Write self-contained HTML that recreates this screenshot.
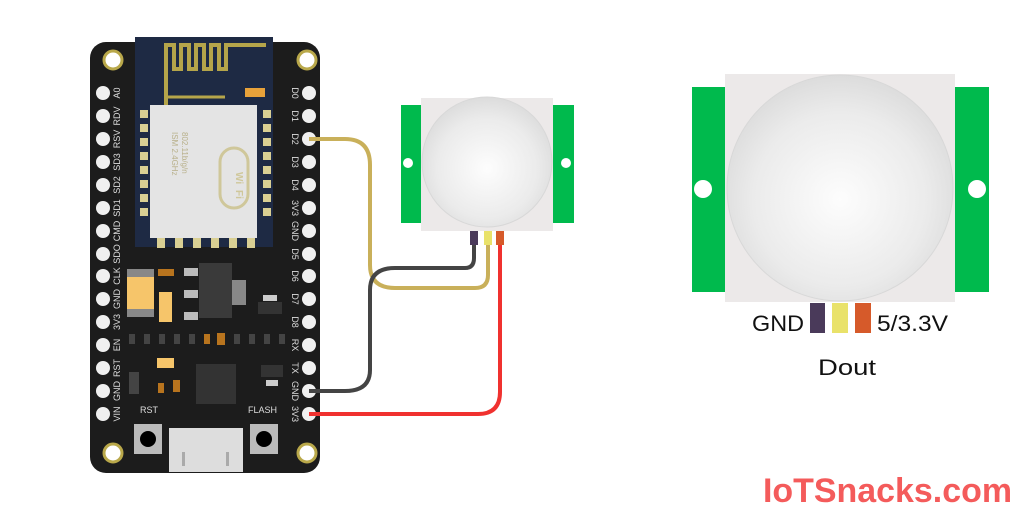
<!DOCTYPE html>
<html><head><style>
body{margin:0;background:#fff;width:1024px;height:512px;overflow:hidden}
svg{display:block}
text{font-family:"Liberation Sans",sans-serif}
</style></head><body>
<svg width="1024" height="512" viewBox="0 0 1024 512">
<defs>
<radialGradient id="dome" cx="0.5" cy="0.55" r="0.55">
<stop offset="0" stop-color="#fdfdfd"/><stop offset="0.7" stop-color="#ebebeb"/><stop offset="1" stop-color="#dcdcdc"/>
</radialGradient>
</defs>
<!-- board -->
<rect x="90" y="42" width="230" height="431" rx="16" fill="#1c1c1c"/>
<g fill="#fff" stroke="#b9a84a" stroke-width="3">
<circle cx="113" cy="60" r="9"/><circle cx="307" cy="60" r="9"/>
<circle cx="113" cy="453" r="9"/><circle cx="307" cy="453" r="9"/>
</g>
<!-- esp module -->
<rect x="135" y="37" width="138" height="210" fill="#1e2a44"/>
<path d="M166 108 V45 h8 v24 h7 v-24 h8 v24 h7 v-24 h8 v24 h7 v-24 h8 v24 h7 v-24 h40" fill="none" stroke="#b5a54a" stroke-width="4"/>
<path d="M166 97 H225" stroke="#b5a54a" stroke-width="3"/>
<rect x="245" y="88" width="20" height="9" fill="#e8a23a"/>
<rect x="150" y="105" width="107" height="133" fill="#e4e4e4"/>
<g fill="#d9cf93">
<rect x="140" y="110" width="8" height="8"/><rect x="140" y="124" width="8" height="8"/><rect x="140" y="138" width="8" height="8"/><rect x="140" y="152" width="8" height="8"/><rect x="140" y="166" width="8" height="8"/><rect x="140" y="180" width="8" height="8"/><rect x="140" y="194" width="8" height="8"/><rect x="140" y="208" width="8" height="8"/>
<rect x="263" y="110" width="8" height="8"/><rect x="263" y="124" width="8" height="8"/><rect x="263" y="138" width="8" height="8"/><rect x="263" y="152" width="8" height="8"/><rect x="263" y="166" width="8" height="8"/><rect x="263" y="180" width="8" height="8"/><rect x="263" y="194" width="8" height="8"/><rect x="263" y="208" width="8" height="8"/>
<rect x="157" y="238" width="8" height="10"/><rect x="175" y="238" width="8" height="10"/><rect x="193" y="238" width="8" height="10"/><rect x="211" y="238" width="8" height="10"/><rect x="229" y="238" width="8" height="10"/><rect x="247" y="238" width="8" height="10"/>
</g>
<rect x="220" y="148" width="28" height="60" rx="14" fill="none" stroke="#cfc79a" stroke-width="3"/>
<text x="0" y="0" transform="translate(236,172) rotate(90)" font-size="10" font-weight="bold" fill="#cfc79a">Wi</text>
<text x="0" y="0" transform="translate(236,190) rotate(90)" font-size="10" font-weight="bold" fill="#cfc79a">Fi</text>
<text transform="translate(172,132) rotate(90)" font-size="8" fill="#b8b08a">ISM 2.4GHz</text>
<text transform="translate(182,132) rotate(90)" font-size="8" fill="#b8b08a">802.11b/g/n</text>
<!-- components -->
<rect x="127" y="269" width="27" height="48" fill="#f6c56a"/><rect x="127" y="269" width="27" height="8" fill="#888"/><rect x="127" y="309" width="27" height="8" fill="#888"/>
<rect x="158" y="269" width="16" height="7" fill="#b8741e"/>
<rect x="159" y="292" width="13" height="30" fill="#f6c56a"/>
<rect x="199" y="263" width="33" height="55" fill="#3a3a3a"/>
<rect x="232" y="280" width="14" height="25" fill="#888"/>
<rect x="184" y="268" width="14" height="8" fill="#bbb"/><rect x="184" y="290" width="14" height="8" fill="#bbb"/><rect x="184" y="312" width="14" height="8" fill="#bbb"/>
<rect x="263" y="295" width="14" height="6" fill="#ccc"/><rect x="258" y="302" width="24" height="12" fill="#333"/>
<g fill="#444"><rect x="129" y="334" width="6" height="10"/><rect x="144" y="334" width="6" height="10"/><rect x="159" y="334" width="6" height="10"/><rect x="174" y="334" width="6" height="10"/><rect x="189" y="334" width="6" height="10"/><rect x="234" y="334" width="6" height="10"/><rect x="249" y="334" width="6" height="10"/><rect x="264" y="334" width="6" height="10"/><rect x="279" y="334" width="6" height="10"/></g>
<rect x="204" y="334" width="6" height="10" fill="#b8741e"/><rect x="217" y="333" width="8" height="12" fill="#b8741e"/>
<rect x="157" y="358" width="17" height="10" fill="#f6c56a"/>
<rect x="129" y="372" width="10" height="22" fill="#444"/>
<rect x="158" y="383" width="6" height="10" fill="#b8741e"/><rect x="173" y="380" width="7" height="12" fill="#b8741e"/>
<rect x="196" y="364" width="40" height="40" fill="#333"/>
<rect x="261" y="365" width="22" height="12" fill="#333"/><rect x="266" y="380" width="12" height="6" fill="#ccc"/>
<text x="140" y="413" font-size="9" fill="#ddd">RST</text>
<text x="248" y="413" font-size="9" fill="#ddd">FLASH</text>
<rect x="134" y="424" width="28" height="30" fill="#bbb"/><circle cx="148" cy="439" r="8" fill="#000"/>
<rect x="250" y="424" width="28" height="30" fill="#bbb"/><circle cx="264" cy="439" r="8" fill="#000"/>
<rect x="169" y="428" width="74" height="44" fill="#ddd"/>
<rect x="182" y="452" width="3" height="14" fill="#aaa"/><rect x="226" y="452" width="3" height="14" fill="#aaa"/>
<!-- pins -->
<g fill="#f0f0f0">
<circle cx="103" cy="93" r="7"/><circle cx="103" cy="116" r="7"/><circle cx="103" cy="139" r="7"/><circle cx="103" cy="162" r="7"/><circle cx="103" cy="185" r="7"/><circle cx="103" cy="208" r="7"/><circle cx="103" cy="231" r="7"/><circle cx="103" cy="254" r="7"/><circle cx="103" cy="276" r="7"/><circle cx="103" cy="299" r="7"/><circle cx="103" cy="322" r="7"/><circle cx="103" cy="345" r="7"/><circle cx="103" cy="368" r="7"/><circle cx="103" cy="391" r="7"/><circle cx="103" cy="414" r="7"/>
<circle cx="309" cy="93" r="7"/><circle cx="309" cy="116" r="7"/><circle cx="309" cy="139" r="7"/><circle cx="309" cy="162" r="7"/><circle cx="309" cy="185" r="7"/><circle cx="309" cy="208" r="7"/><circle cx="309" cy="231" r="7"/><circle cx="309" cy="254" r="7"/><circle cx="309" cy="276" r="7"/><circle cx="309" cy="299" r="7"/><circle cx="309" cy="322" r="7"/><circle cx="309" cy="345" r="7"/><circle cx="309" cy="368" r="7"/><circle cx="309" cy="391" r="7"/><circle cx="309" cy="414" r="7"/>
</g>
<g font-size="9" fill="#ddd" font-family="Liberation Mono" text-anchor="middle">
<text transform="translate(120,93) rotate(-90)">A0</text><text transform="translate(120,116) rotate(-90)">RDV</text><text transform="translate(120,139) rotate(-90)">RSV</text><text transform="translate(120,162) rotate(-90)">SD3</text><text transform="translate(120,185) rotate(-90)">SD2</text><text transform="translate(120,208) rotate(-90)">SD1</text><text transform="translate(120,231) rotate(-90)">CMD</text><text transform="translate(120,254) rotate(-90)">SDO</text><text transform="translate(120,276) rotate(-90)">CLK</text><text transform="translate(120,299) rotate(-90)">GND</text><text transform="translate(120,322) rotate(-90)">3V3</text><text transform="translate(120,345) rotate(-90)">EN</text><text transform="translate(120,368) rotate(-90)">RST</text><text transform="translate(120,391) rotate(-90)">GND</text><text transform="translate(120,414) rotate(-90)">VIN</text>
<text transform="translate(292,93) rotate(90)">D0</text><text transform="translate(292,116) rotate(90)">D1</text><text transform="translate(292,139) rotate(90)">D2</text><text transform="translate(292,162) rotate(90)">D3</text><text transform="translate(292,185) rotate(90)">D4</text><text transform="translate(292,208) rotate(90)">3V3</text><text transform="translate(292,231) rotate(90)">GND</text><text transform="translate(292,254) rotate(90)">D5</text><text transform="translate(292,276) rotate(90)">D6</text><text transform="translate(292,299) rotate(90)">D7</text><text transform="translate(292,322) rotate(90)">D8</text><text transform="translate(292,345) rotate(90)">RX</text><text transform="translate(292,368) rotate(90)">TX</text><text transform="translate(292,391) rotate(90)">GND</text><text transform="translate(292,414) rotate(90)">3V3</text>
</g>
<!-- wires -->
<path d="M309 139 H345 Q370 139 370 165 V265 Q370 288 395 288 H475 Q488 288 488 275 V245" fill="none" stroke="#c9b05a" stroke-width="4"/>
<path d="M309 391 H345 Q370 391 370 370 V290 Q370 268 395 268 H465 Q474 268 474 258 V245" fill="none" stroke="#444" stroke-width="4"/>
<path d="M309 414 H478 Q500 414 500 392 V245" fill="none" stroke="#f0312f" stroke-width="4"/>
<!-- small sensor -->
<rect x="401" y="105" width="21" height="118" fill="#00ba4d"/><circle cx="408" cy="163" r="5" fill="#fff"/>
<rect x="553" y="105" width="21" height="118" fill="#00ba4d"/><circle cx="566" cy="163" r="5" fill="#fff"/>
<rect x="421" y="98" width="132" height="133" fill="#ece9e9"/>
<circle cx="487" cy="162" r="65" fill="url(#dome)" stroke="#d8d8d8"/>
<rect x="470" y="231" width="8" height="14" fill="#4a3a5a"/><rect x="484" y="231" width="8" height="14" fill="#e9e26a"/><rect x="496" y="231" width="8" height="14" fill="#d65a2a"/>
<!-- large sensor -->
<rect x="692" y="87" width="34" height="205" fill="#00ba4d"/><circle cx="703" cy="189" r="9" fill="#fff"/>
<rect x="955" y="87" width="34" height="205" fill="#00ba4d"/><circle cx="977" cy="189" r="9" fill="#fff"/>
<rect x="725" y="74" width="230" height="228" fill="#ece9e9"/>
<circle cx="840" cy="188" r="113" fill="url(#dome)" stroke="#d8d8d8"/>
<rect x="810" y="303" width="15" height="30" fill="#4a3a5a"/><rect x="832" y="303" width="16" height="30" fill="#e9e26a"/><rect x="855" y="303" width="16" height="30" fill="#d65a2a"/>
<text x="752" y="331" font-size="22" fill="#111" textLength="52" lengthAdjust="spacingAndGlyphs">GND</text>
<text x="877" y="331" font-size="22" fill="#111" textLength="71" lengthAdjust="spacingAndGlyphs">5/3.3V</text>
<text x="818" y="375" font-size="22" fill="#111" textLength="58" lengthAdjust="spacingAndGlyphs">Dout</text>
<text x="763" y="502" font-size="34" font-weight="bold" fill="#f45b5b" textLength="249" lengthAdjust="spacingAndGlyphs">IoTSnacks.com</text>
</svg>
</body></html>
